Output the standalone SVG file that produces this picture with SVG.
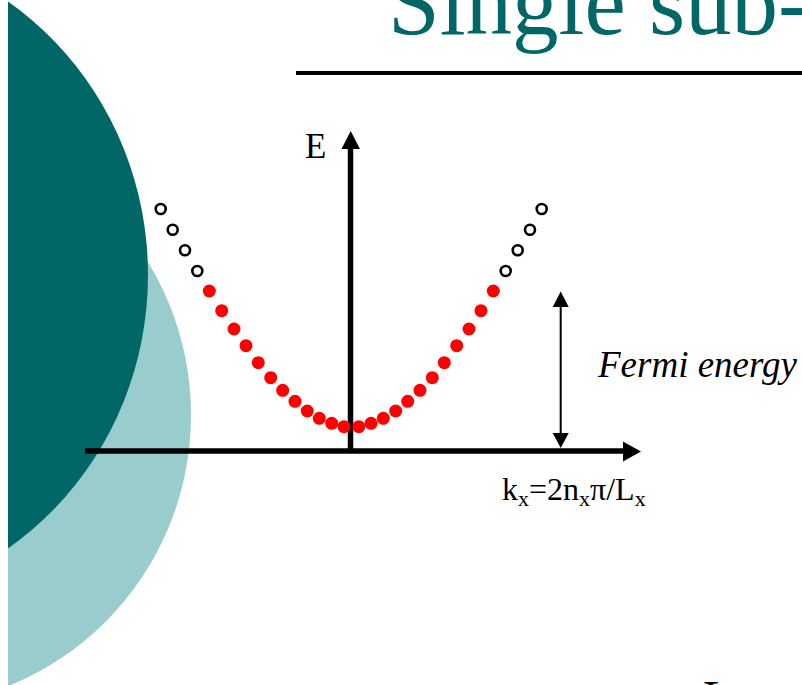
<svg xmlns="http://www.w3.org/2000/svg" width="802" height="685" viewBox="0 0 802 685">
<style>
.serif{font-family:"Liberation Serif","Times New Roman",serif;fill:#000}
.red{fill:#ff0000}
.open{fill:#fff;stroke:#000;stroke-width:2.6}
.axis{stroke:#000;stroke-width:5.5;fill:none}
.head{fill:#000}
</style>
<defs>
<clipPath id="clip"><rect x="8" y="0" width="794" height="685"/></clipPath>
</defs>
<rect width="802" height="685" fill="#fff"/>
<g id="background" clip-path="url(#clip)">
<ellipse cx="-100" cy="415" rx="291" ry="292" fill="#99cccc"/>
<ellipse cx="-170" cy="275" rx="318" ry="330" fill="#006666"/>
</g>
<g id="title">
<text x="388" y="34" class="serif" font-size="93" style="fill:#006666">Single sub-</text>
<line x1="296" y1="73" x2="802" y2="73" stroke="#000" stroke-width="4"/>
</g>
<g id="connectors">
<line class="axis" x1="350.5" y1="451" x2="350.5" y2="147"/>
<polygon class="head" points="350.7,131 341.5,149 360,149"/>
<line class="axis" x1="85" y1="451" x2="625" y2="451"/>
<polygon class="head" points="641,451.5 623,441.5 623,461.5"/>
<line x1="560.7" y1="305" x2="560.7" y2="435" stroke="#000" stroke-width="2"/>
<polygon class="head" points="560.7,291.5 552.7,307 568.7,307"/>
<polygon class="head" points="560.7,448 552.7,433 568.7,433"/>
</g>
<g id="dots-filled">
<circle class="red" cx="344" cy="426.7" r="6.5"/>
<circle class="red" cx="331.7" cy="423.3" r="6.5"/>
<circle class="red" cx="319.3" cy="418.3" r="6.5"/>
<circle class="red" cx="307.3" cy="411" r="6.5"/>
<circle class="red" cx="295" cy="401.3" r="6.5"/>
<circle class="red" cx="282.7" cy="390.3" r="6.5"/>
<circle class="red" cx="270.7" cy="377.7" r="6.5"/>
<circle class="red" cx="258.3" cy="362.7" r="6.5"/>
<circle class="red" cx="246" cy="345.7" r="6.5"/>
<circle class="red" cx="234" cy="329" r="6.5"/>
<circle class="red" cx="221.7" cy="310.7" r="6.5"/>
<circle class="red" cx="209.3" cy="291" r="6.5"/>
<circle class="red" cx="358.8" cy="426.7" r="6.5"/>
<circle class="red" cx="371" cy="423.3" r="6.5"/>
<circle class="red" cx="383.3" cy="418.3" r="6.5"/>
<circle class="red" cx="395.7" cy="411" r="6.5"/>
<circle class="red" cx="407.7" cy="401.3" r="6.5"/>
<circle class="red" cx="420" cy="390.3" r="6.5"/>
<circle class="red" cx="432.3" cy="377.7" r="6.5"/>
<circle class="red" cx="444.3" cy="362.7" r="6.5"/>
<circle class="red" cx="456.7" cy="345.7" r="6.5"/>
<circle class="red" cx="469" cy="329" r="6.5"/>
<circle class="red" cx="481" cy="310.7" r="6.5"/>
<circle class="red" cx="493.3" cy="291" r="6.5"/>
</g>
<g id="dots-empty">
<circle class="open" cx="197.3" cy="271" r="5"/>
<circle class="open" cx="185" cy="250.3" r="5"/>
<circle class="open" cx="172.7" cy="229.7" r="5"/>
<circle class="open" cx="160.7" cy="209" r="5"/>
<circle class="open" cx="505.7" cy="271" r="5"/>
<circle class="open" cx="517.7" cy="250.3" r="5"/>
<circle class="open" cx="530" cy="229.7" r="5"/>
<circle class="open" cx="541.7" cy="209" r="5"/>
</g>
<g id="labels">
<text x="305" y="158" class="serif" font-size="35">E</text>
<text x="598" y="377" class="serif" font-size="37" font-style="italic">Fermi energy</text>
<text x="502" y="500" class="serif" font-size="32">k<tspan font-size="22" dy="6">x</tspan><tspan dy="-6">=2n</tspan><tspan font-size="22" dy="6">x</tspan><tspan dy="-6">π/L</tspan><tspan font-size="22" dy="6">x</tspan></text>
<text x="703" y="714" class="serif" font-size="48">L</text>
</g>
</svg>
